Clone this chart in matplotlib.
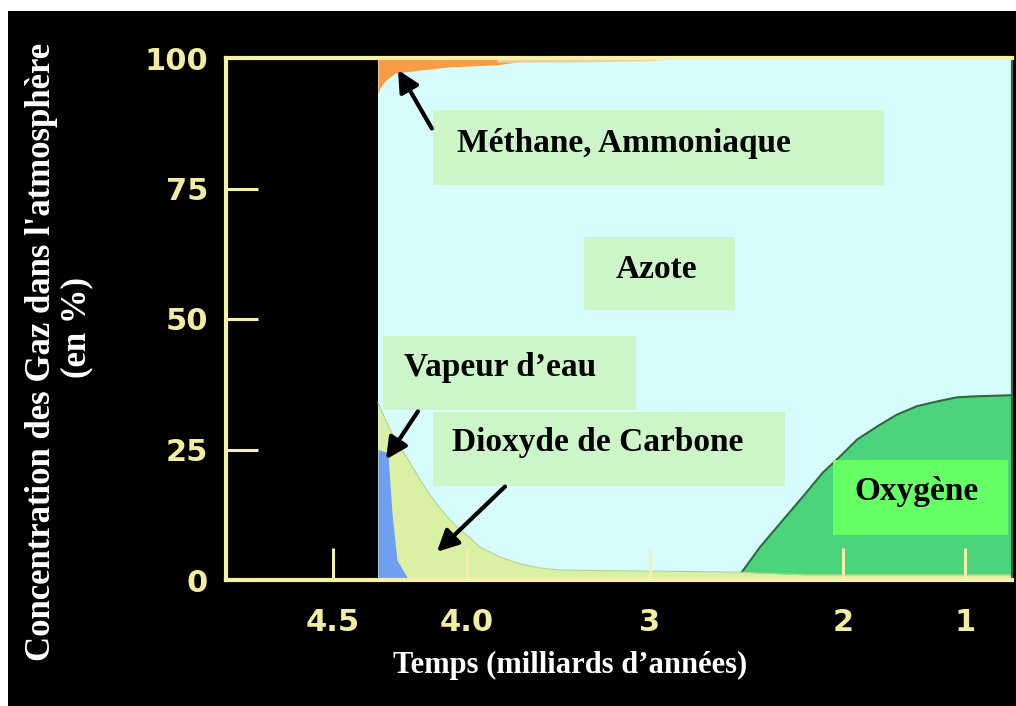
import numpy as np
import matplotlib
matplotlib.use("Agg")
import matplotlib.pyplot as plt
from matplotlib.patches import Rectangle

# ---------------- data (ages in billions of years, values in %) ----------------
tick_ages = [4.5, 4.0, 3, 2, 1]
tick_labels = ["4.5", "4.0", "3", "2", "1"]
y_ticks = [0, 25, 50, 75, 100]
y_ticklabels = ["0", "25", "50", "75", "100"]

# non-linear time axis of the original (age -> horizontal position)
scale_ages = np.array([5.0, 4.5, 4.0, 3.0, 2.0, 1.0, 0.0])
scale_pos = np.array([-27.0, 107.0, 241.0, 424.0, 617.0, 739.0, 861.0])

atm_start = 4.332
atm_end = 0.615

methane_ages = [4.332, 4.325, 4.306, 4.269, 4.175, 4.063, 3.836, 3.656]
methane_bottom = [93.0, 94.2, 95.6, 97.1, 97.7, 98.3, 98.7, 99.6]
traces_ages = [3.836, 3.656, 3.3, 3.0, 2.836]
traces_bottom = [99.2, 99.2, 99.3, 99.5, 99.9]

co2_ages = [4.332, 4.325, 4.287, 4.250, 4.213, 4.175, 4.138, 4.101, 4.063, 4.026, 3.984,
            3.929, 3.820, 3.710, 3.601, 3.492, 3.273, 2.741, 2.534, 2.2, 1.5, 0.615]
co2_values = [34.0, 33.1, 28.8, 25.6, 22.5, 19.2, 16.3, 13.8, 11.5, 9.6, 8.1,
              6.3, 4.4, 3.1, 2.3, 1.9, 1.8, 1.6, 1.5, 1.0, 1.0, 1.0]

water_ages = [4.332, 4.295, 4.280, 4.261, 4.224, 4.21]
water_values = [25.0, 24.4, 12.9, 3.8, 0.6, 0.0]

o2_ages = [2.534, 2.430, 2.311, 2.207, 2.104, 2.031, 1.885, 1.721, 1.557, 1.393,
           1.230, 1.066, 0.902, 0.615]
o2_values = [1.0, 6.3, 11.5, 16.0, 20.6, 23.1, 26.9, 29.4, 31.7, 33.3,
             34.2, 35.0, 35.2, 35.4]

# ---------------- styling ----------------
PALE = "#f6f0a8"
LABEL_Y = "#f3eda2"
CYAN = "#d6fcfe"
ORANGE = "#f99d45"
TAN = "#ead0a0"
CO2_C = "#d9f0a5"
WATER_C = "#6f9ff0"
O2_C = "#4cd47c"
O2_EDGE = "#2c6a3a"
BOX_C = "#cdf6c8"
OXY_BOX = "#66ff66"
SERIF = ["Liberation Serif", "DejaVu Serif"]


def fwd(a):
    return -np.interp(-np.asarray(a, dtype=float), -scale_ages, scale_pos)


def inv(p):
    return -np.interp(-np.asarray(p, dtype=float), scale_pos, -scale_ages)


fig = plt.figure(figsize=(10.16, 7.06), dpi=100)
fig.patch.set_facecolor("white")
fig.add_artist(Rectangle((8 / 1016, 0), 1, (706 - 11) / 706, transform=fig.transFigure,
                         facecolor="black", edgecolor="none", zorder=-10))

ax = fig.add_axes([226 / 1016, (706 - 580) / 706, 786 / 1016, 522 / 706])
ax.set_facecolor("black")
ax.set_xscale("function", functions=(fwd, inv))
ax.set_xlim(4.899, atm_end)
ax.set_ylim(0, 100)

# atmosphere (nitrogen background)
ax.fill_between([atm_start, atm_end], 0, 100, color=CYAN, lw=0, zorder=1)
# methane / ammonia
ax.fill_between(methane_ages, methane_bottom, 100, color=ORANGE, lw=0, zorder=2)
ax.fill_between(traces_ages, traces_bottom, 100, color=TAN, lw=0, zorder=2)
# oxygen
ax.fill_between(o2_ages, 0, o2_values, color=O2_C, lw=0, zorder=2)
ax.plot(o2_ages, o2_values, color=O2_EDGE, lw=1.5, zorder=3)
# carbon dioxide
ax.fill_between(co2_ages, 0, co2_values, color=CO2_C, lw=0, zorder=3)
ax.plot(co2_ages, co2_values, color="#b5d58a", lw=0.8, zorder=3)
# water vapour
ax.fill_between(water_ages, 0, water_values, color=WATER_C, lw=0, zorder=4)

# spines and ticks
for side in ["left", "bottom", "top"]:
    ax.spines[side].set_color(PALE)
    ax.spines[side].set_linewidth(3)
ax.spines["right"].set_color(O2_EDGE)
ax.spines["right"].set_linewidth(1.5)
for sp in ax.spines.values():
    sp.set_zorder(4.6)
ax.xaxis.set_zorder(4.5)
ax.yaxis.set_zorder(4.5)

ax.set_xticks(tick_ages)
ax.set_xticklabels(tick_labels)
ax.set_yticks(y_ticks)
ax.set_yticklabels(y_ticklabels)
ax.xaxis.set_minor_locator(matplotlib.ticker.NullLocator())
ax.tick_params(axis="both", direction="in", length=23, width=2.2, color=PALE,
               labelcolor=LABEL_Y, labelsize=22)
ax.tick_params(axis="x", pad=20)
ax.tick_params(axis="y", pad=13)
for lab in ax.get_xticklabels() + ax.get_yticklabels():
    lab.set_fontweight("bold")
    lab.set_family("DejaVu Sans")

# text boxes (axes fraction)
boxes = [
    (0.263, 0.757, 0.574, 0.144, BOX_C),
    (0.455, 0.517, 0.192, 0.140, BOX_C),
    (0.200, 0.326, 0.321, 0.142, BOX_C),
    (0.263, 0.180, 0.448, 0.142, BOX_C),
    (0.772, 0.086, 0.223, 0.144, OXY_BOX),
]
for x0, y0, w, h, c in boxes:
    ax.add_patch(Rectangle((x0, y0), w, h, transform=ax.transAxes,
                           facecolor=c, edgecolor="none", zorder=5))

labels = [
    ("Méthane, Ammoniaque", 0.506, 0.837),
    ("Azote", 0.548, 0.594),
    ("Vapeur d’eau", 0.349, 0.408),
    ("Dioxyde de Carbone", 0.473, 0.264),
    ("Oxygène", 0.879, 0.169),
]
for txt, xx, yy in labels:
    ax.text(xx, yy, txt, transform=ax.transAxes, ha="center", va="center",
            fontsize=24, fontweight="bold", family=SERIF, color="black", zorder=6)

arrow_kw = dict(arrowstyle="-|>", color="black", lw=3, mutation_scale=32,
                shrinkA=0, shrinkB=0)
arrows = [
    ((4.257, 97.7), (4.131, 86.5)),
    ((4.302, 23.1), (4.183, 32.3)),
    ((4.112, 5.4), (3.792, 17.9)),
]
for tip, tail in arrows:
    ax.annotate("", xy=tip, xytext=tail, arrowprops=arrow_kw, zorder=7)

# axis titles
fig.text(570 / 1016, 1 - 665 / 706, "Temps (milliards d’années)", ha="center", va="center",
         fontsize=22, fontweight="bold", family=SERIF, color="white")
fig.text(42 / 1016, 1 - 352 / 706, "Concentration des Gaz dans l'atmosphère", rotation=90,
         ha="center", va="center", fontsize=25, fontweight="bold", family=SERIF, color="white")
fig.text(77 / 1016, 1 - 328 / 706, "(en %)", rotation=90,
         ha="center", va="center", fontsize=25, fontweight="bold", family=SERIF, color="white")

fig.savefig("out.png", dpi=100, facecolor=fig.get_facecolor())
